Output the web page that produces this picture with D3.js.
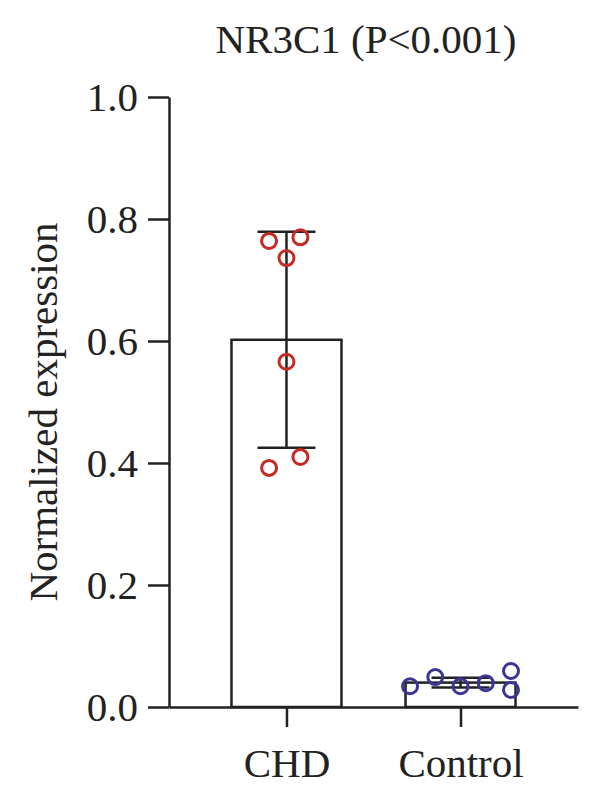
<!DOCTYPE html>
<html>
  <head>
    <meta charset="utf-8">
    <title>NR3C1 expression</title>
    <script src="https://d3js.org/d3.v7.min.js"></script>
    <style>
      body { margin: 0; background: #fff; }
      text { font-family: "Liberation Serif", "DejaVu Serif", serif; fill: #222; }
      .axis path, .axis line { stroke: #222; stroke-width: 2.5; }
    </style>
  </head>
  <body>
    <svg id="chart" width="600" height="801"></svg>
    <script>
      // data
      var groups = ["CHD", "Control"];
      var means = [0.602, 0.040];
      var sds = [0.177, 0.008];
      var chdPoints = [0.764, 0.770, 0.736, 0.566, 0.392, 0.410];
      var controlPoints = [0.034, 0.049, 0.034, 0.039, 0.059, 0.028];
      // horizontal jitter of each point, in fractions of the band
      var chdOffsets = [-0.1, 0.08, 0, 0, -0.1, 0.08];
      var controlOffsets = [-0.29, -0.145, 0, 0.145, 0.29, 0.29];
      var yTicks = [0, 0.2, 0.4, 0.6, 0.8, 1.0];
      var colors = ["#c62a22", "#3b3595"];

      var margin = { top: 97, left: 169, right: 22, bottom: 94 };
      var width = 600, height = 801;
      var fontSize = "41px";
      var chart = d3.select("#chart");

      var x = d3.scalePoint()
        .domain(groups)
        .range([margin.left, width - margin.right])
        .padding(0.675);
      var y = d3.scaleLinear()
        .domain([0, 1])
        .range([height - margin.bottom, margin.top]);
      var step = x.step();
      var barWidth = 110;
      var capWidth = 58;

      // bars
      chart.append("g").selectAll("rect")
        .data(groups)
        .enter().append("rect")
          .attr("x", function(d) { return x(d) - barWidth / 2; })
          .attr("y", function(d, i) { return y(means[i]); })
          .attr("width", barWidth)
          .attr("height", function(d, i) { return y(0) - y(means[i]); })
          .attr("fill", "none")
          .attr("stroke", "#222")
          .attr("stroke-width", 2.5);

      // error bars
      var err = chart.append("g").attr("stroke", "#222").attr("stroke-width", 2.5);
      groups.forEach(function(g, i) {
        var cx = x(g);
        err.append("line")
          .attr("x1", cx).attr("x2", cx)
          .attr("y1", y(means[i] + sds[i])).attr("y2", y(means[i] - sds[i]));
        [means[i] + sds[i], means[i] - sds[i]].forEach(function(v) {
          err.append("line")
            .attr("x1", cx - capWidth / 2).attr("x2", cx + capWidth / 2)
            .attr("y1", y(v)).attr("y2", y(v));
        });
      });

      // points
      var pointSets = [
        { values: chdPoints, offsets: chdOffsets },
        { values: controlPoints, offsets: controlOffsets }
      ];
      pointSets.forEach(function(s, i) {
        chart.append("g").selectAll("circle")
          .data(s.values)
          .enter().append("circle")
            .attr("cx", function(d, j) { return x(groups[i]) + s.offsets[j] * step; })
            .attr("cy", function(d) { return y(d); })
            .attr("r", 7.5)
            .attr("fill", "none")
            .attr("stroke", colors[i])
            .attr("stroke-width", 3);
      });

      // axes
      var yAxis = d3.axisLeft(y)
        .tickValues(yTicks)
        .tickFormat(d3.format(".1f"))
        .tickSizeInner(21)
        .tickSizeOuter(0)
        .tickPadding(10);
      var xAxis = d3.axisBottom(x)
        .tickSizeInner(20)
        .tickSizeOuter(0)
        .tickPadding(21);
      chart.append("g")
        .attr("class", "axis")
        .attr("transform", "translate(" + margin.left + ",0)")
        .call(yAxis);
      chart.append("g")
        .attr("class", "axis")
        .attr("transform", "translate(0," + y(0) + ")")
        .call(xAxis);
      chart.selectAll(".axis text")
        .style("font-family", "'Liberation Serif', 'DejaVu Serif', serif")
        .style("font-size", fontSize)
        .attr("fill", "#222");

      // title and label
      chart.append("text")
        .attr("x", 366)
        .attr("y", 53)
        .attr("text-anchor", "middle")
        .style("font-size", fontSize)
        .text("NR3C1 (P<0.001)");
      chart.append("text")
        .attr("transform", "translate(57,412) rotate(-90)")
        .attr("text-anchor", "middle")
        .style("font-size", fontSize)
        .text("Normalized expression");
    </script>
  </body>
</html>
